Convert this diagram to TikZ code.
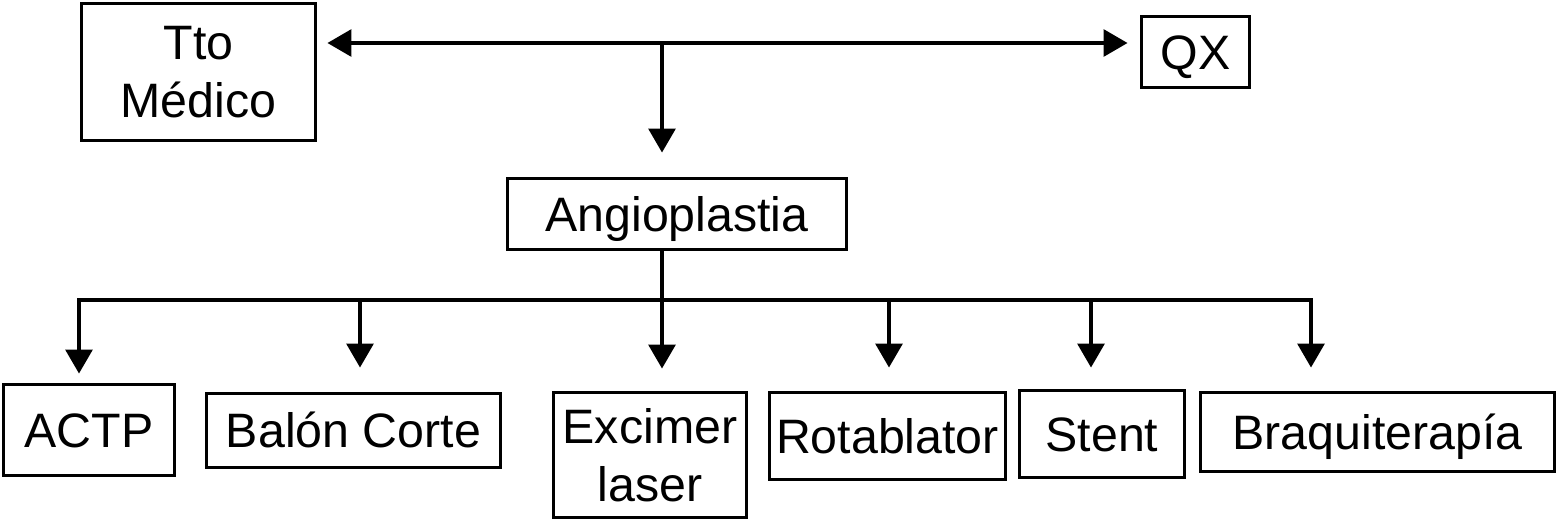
\documentclass[tikz,border=0pt]{standalone}
\usepackage{fontspec}
\setmainfont{Liberation Sans}
\usetikzlibrary{arrows.meta, positioning}

\begin{document}
\begin{tikzpicture}[x=0.02cm, y=-0.02cm,
    caja/.style={draw, line width=1.7pt, inner sep=0pt, align=center,
      font=\fontsize{27.5}{33}\selectfont},
    unalinea/.style={text height=19.8pt, text depth=0pt},
    linea/.style={line width=1.8pt},
    flecha/.style={linea, -{Triangle[length=0.48cm, width=0.54cm]}}]
  \useasboundingbox (0,0) rectangle (1559,521);

  % Nivel superior
  \node[caja, minimum width=4.68cm, minimum height=2.74cm] (tto) at (198.5,72) {Tto\\Médico};
  \node[caja, unalinea, minimum width=2.16cm, minimum height=1.42cm] (qx) at (1195.5,52) {QX};
  \node[caja, unalinea, minimum width=6.78cm, minimum height=1.42cm] (angio) at (677,214) {Angioplastia};

  % Técnicas
  \node[caja, unalinea, minimum width=3.42cm, minimum height=1.82cm] (actp) at (89,430) {ACTP};
  \node[caja, unalinea, minimum width=5.88cm, minimum height=1.48cm] (balon) at (353.5,430.5) {Balón Corte};
  \node[caja, minimum width=3.86cm, minimum height=2.50cm] (excimer) at (650,455) {Excimer\\laser};
  \node[caja, unalinea, minimum width=4.72cm, minimum height=1.74cm] (rota) at (887.5,436) {Rotablator};
  \node[caja, unalinea, minimum width=3.30cm, minimum height=1.74cm] (stent) at (1102,434) {Stent};
  \node[caja, unalinea, minimum width=7.08cm, minimum height=1.58cm] (braq) at (1377.5,432) {Braquiterapía};

  % Flechas superiores
  \coordinate (top) at (662,43);
  \draw[linea, {Triangle[length=0.48cm, width=0.54cm]}-{Triangle[length=0.48cm, width=0.54cm]},
    shorten <=0.21cm, shorten >=0.25cm] (tto.east |- top) -- (qx.west |- top);
  \draw[flecha, shorten >=0.49cm] (top) -- (top |- angio.north);

  % Distribuidor
  \coordinate (bA) at (79,300);
  \coordinate (bB) at (360,300);
  \coordinate (bC) at (662,300);
  \coordinate (bD) at (889,300);
  \coordinate (bE) at (1091,300);
  \coordinate (bF) at (1311,300);
  \draw[linea] (top |- angio.south) -- (bC);
  \draw[linea, line cap=rect] (bA) -- (bF);
  \foreach \b/\n/\s in {bA/actp/0.19cm, bB/balon/0.49cm, bC/excimer/0.45cm,
      bD/rota/0.47cm, bE/stent/0.43cm, bF/braq/0.47cm}
    \draw[flecha, shorten >=\s] (\b) -- (\b |- \n.north);
\end{tikzpicture}
\end{document}
